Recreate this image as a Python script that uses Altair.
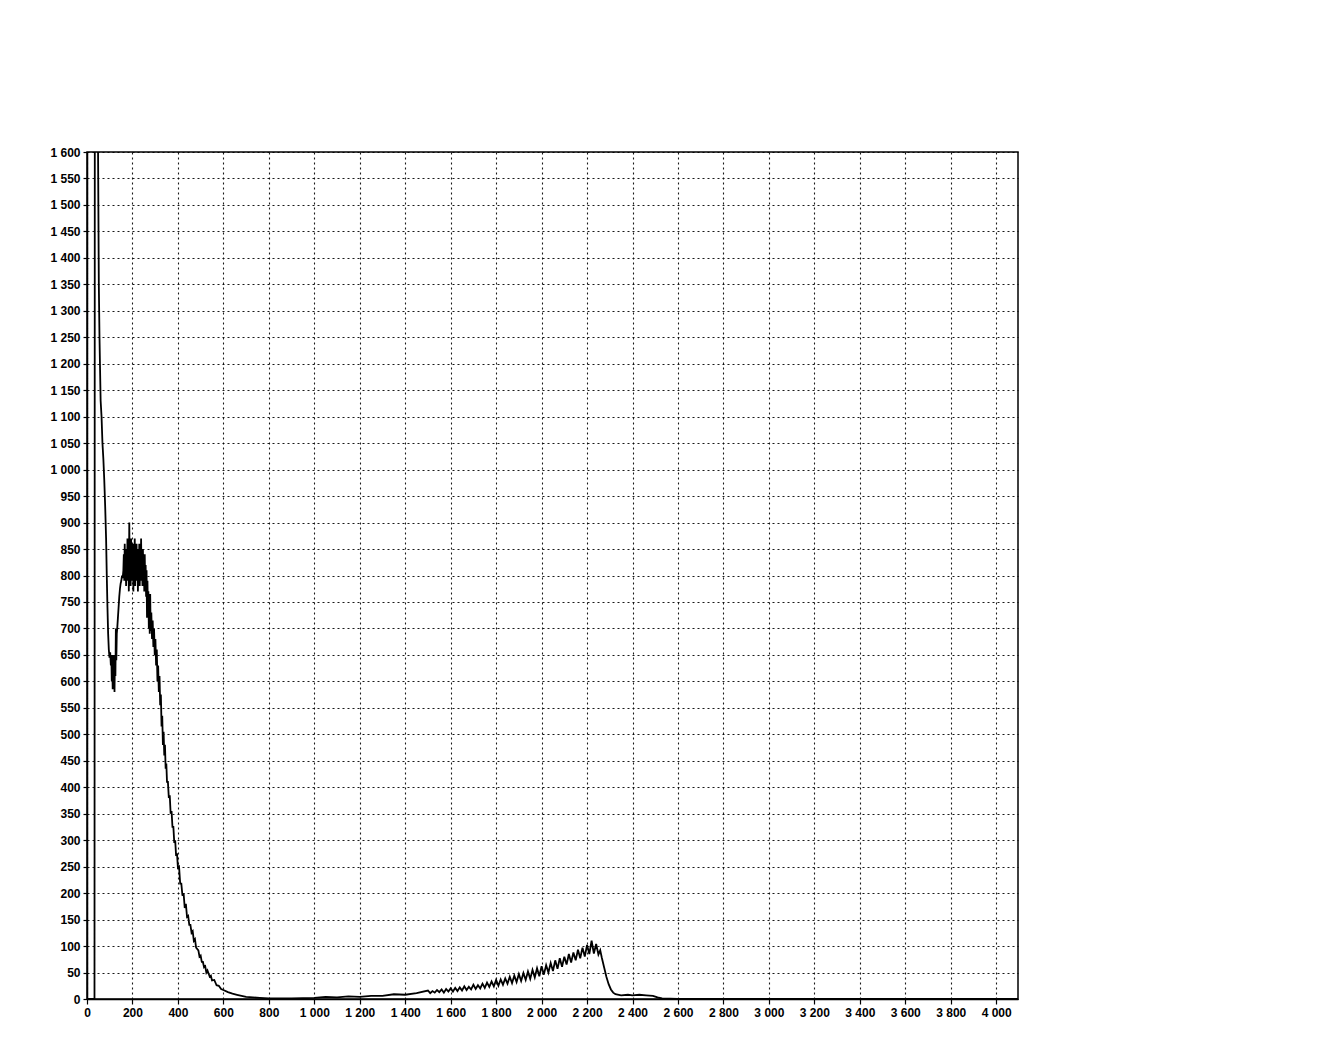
import altair as alt
import pandas as pd

# ---- spectrum (channel -> counts) ----
channels = [
    0, 30, 33, 35, 40, 46, 48, 50, 52, 55, 57, 60, 64, 68, 72, 76, 80, 84, 87, 90, 93, 96, 99,
    102, 105, 107, 109, 111, 113, 115, 117, 119, 121, 123, 125, 127, 129, 131, 133, 136, 139,
    142, 145, 148, 151, 154, 157, 160,
    162, 164, 166, 168, 170, 172, 174, 176, 178, 180, 182, 184, 186, 188, 190, 192, 194, 196,
    198, 200, 202, 204, 206, 208, 210, 212, 214, 216, 218, 220, 222, 224, 226, 228, 230, 232,
    234, 236, 238, 240, 242, 244, 246, 248, 250, 252, 254, 256, 258, 260,
    262, 264, 266, 268, 270, 272, 274, 276, 278, 280, 283, 286, 289, 292, 295, 298, 301, 304,
    307, 310, 313, 316, 319, 322, 325, 328, 331, 334, 337, 340, 343, 346, 349, 352, 356, 360,
    364, 368, 372, 376, 380, 384, 388, 392, 396, 400, 405, 410, 415, 420, 425, 430, 435, 440,
    445, 450, 455, 460, 465, 470, 475, 480, 490, 495, 500, 505, 510, 515, 520, 525, 530, 540,
    545, 550, 560, 570, 580, 590, 600, 620, 640, 660, 680, 700, 730, 760, 800, 900,
    1000, 1050, 1100, 1150, 1200, 1250, 1300, 1350, 1400, 1450,
    1500, 1510, 1520, 1530, 1540, 1550, 1560, 1570, 1580, 1590,
    1600, 1610, 1620, 1630, 1640, 1650, 1660, 1670, 1680, 1690,
    1700, 1710, 1720, 1730, 1740, 1750, 1760, 1770, 1780, 1790,
    1800, 1810, 1820, 1830, 1840, 1850, 1860, 1870, 1880, 1890,
    1900, 1910, 1920, 1930, 1940, 1950, 1960, 1970, 1980, 1990,
    2000, 2010, 2020, 2030, 2040, 2050, 2060, 2070, 2080, 2090,
    2100, 2110, 2120, 2130, 2140, 2150, 2160, 2170, 2180, 2190,
    2200, 2210, 2220, 2230, 2240, 2250, 2258, 2265, 2275, 2285, 2295, 2305, 2315, 2325,
    2350, 2380, 2400, 2430, 2460, 2490, 2510, 2530, 2600, 4096,
]
counts = [
    0, 0, 0, 2500, 2500, 2000, 1650, 1500, 1350, 1250, 1200, 1130, 1100, 1050, 1020, 980, 930,
    870, 800, 740, 690, 660, 645,
    655, 630, 650, 600, 640, 585, 650, 595, 640, 580, 650, 610, 700, 640, 690, 700, 720, 740,
    760, 775, 785, 790, 800, 795, 810,
    840, 790, 860, 800, 830, 780, 850, 800, 870, 790, 850, 770, 900, 800, 860, 780, 870, 810,
    850, 790, 860, 770, 840, 800, 870, 780, 850, 790, 860, 800, 840, 770, 850, 800, 860, 780,
    830, 790, 870, 800, 840, 780, 850, 790, 830, 770, 840, 780, 820, 760,
    810, 720, 790, 730, 770, 700, 760, 690, 765, 695, 730, 680, 715, 665, 700, 650, 680, 630,
    660, 600, 630, 580, 610, 555, 575, 515, 535, 480, 505, 460, 480, 435, 445, 410, 410, 380,
    385, 350, 355, 325, 325, 295, 300, 270, 275, 248, 250, 218, 218, 195, 200, 172, 180, 155,
    157, 140, 140, 125, 128, 110, 113, 97, 92, 80, 82, 70, 70, 60, 62, 50, 54, 42,
    44, 35, 36, 26, 25, 19, 17, 13, 10, 8, 6, 4, 3, 2, 1, 1,
    2, 4, 3, 5, 4, 6, 6, 9, 8, 11,
    16, 11, 15, 12, 17, 13, 18, 12, 19, 14,
    20, 14, 21, 15, 22, 16, 24, 17, 23, 18,
    27, 19, 26, 20, 29, 21, 31, 23, 33, 24,
    36, 25, 37, 27, 39, 29, 42, 30, 44, 32,
    47, 34, 49, 36, 52, 38, 55, 41, 58, 43,
    62, 46, 64, 50, 68, 53, 73, 57, 77, 61,
    80, 65, 85, 69, 88, 73, 93, 77, 97, 80,
    102, 85, 110, 86, 104, 84, 92, 78, 60, 42, 28, 18, 12, 9,
    7, 8, 7, 8, 7, 6, 3, 1, 0, 0,
]

x_ticks = list(range(0, 4001, 200))
y_ticks = list(range(0, 1601, 50))

df = pd.DataFrame({"channel": channels, "counts": counts})

label_expr = "replace(format(datum.value, ','), ',', ' ')"

chart = (
    alt.Chart(df)
    .mark_line(color="black", strokeWidth=1.8, clip=True)
    .encode(
        x=alt.X(
            "channel:Q",
            scale=alt.Scale(domain=[0, 4096], nice=False, zero=False),
            axis=alt.Axis(
                values=x_ticks,
                labelExpr=label_expr,
                title=None,
                grid=True,
                tickSize=5,
                labelPadding=3,
                labelFlush=False,
                labelOverlap=False,
            ),
        ),
        y=alt.Y(
            "counts:Q",
            scale=alt.Scale(domain=[0, 1600], nice=False),
            axis=alt.Axis(
                values=y_ticks,
                labelExpr=label_expr,
                title=None,
                grid=True,
                tickSize=4,
                labelPadding=3,
                labelFlush=False,
                labelOverlap=False,
            ),
        ),
    )
    .properties(
        width=931,
        height=847,
        autosize=alt.AutoSizeParams(type="none"),
        padding={"left": 79, "top": 144, "right": 308, "bottom": 41},
        background="white",
    )
    .configure_view(stroke="black", strokeWidth=1.5)
    .configure_axis(
        domainColor="black",
        domainWidth=1.5,
        tickColor="black",
        tickWidth=1.2,
        labelColor="black",
        labelFont="Liberation Sans",
        labelFontSize=12,
        labelFontWeight="bold",
        gridColor="black",
        gridDash=[2, 3],
        gridWidth=1.1,
        gridOpacity=0.9,
    )
)

chart.save("out.html", embed_options={"renderer": "svg", "actions": False})
